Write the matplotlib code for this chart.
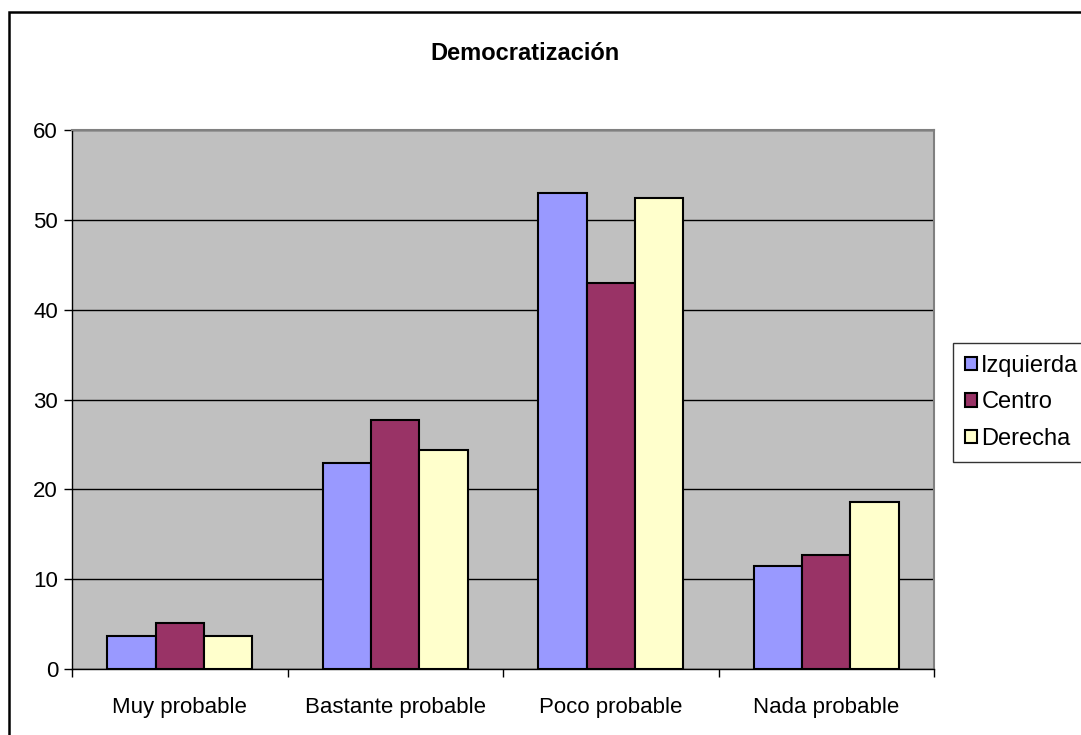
import matplotlib.pyplot as plt
import numpy as np
from matplotlib.patches import Rectangle

categories = ['Muy probable', 'Bastante probable', 'Poco probable', 'Nada probable']
series_names = ['Izquierda', 'Centro', 'Derecha']
izquierda = [3.7, 22.9, 53.0, 11.5]
centro = [5.1, 27.7, 43.0, 12.7]
derecha = [3.7, 24.4, 52.4, 18.6]
colors = ['#9999FF', '#993366', '#FFFFCC']

plt.rcParams['font.family'] = ['Liberation Sans', 'DejaVu Sans']

fig = plt.figure(figsize=(10.81, 7.35), dpi=100)
W, H = 1081, 735
ax = fig.add_axes([72 / W, 1 - 669 / H, (934 - 72) / W, (669 - 130) / H])
ax.set_facecolor('#C0C0C0')

x = np.arange(len(categories))
width = 0.224
for i, (vals, name, c) in enumerate(zip([izquierda, centro, derecha], series_names, colors)):
    ax.bar(x + (i - 1) * width, vals, width, color=c, edgecolor='black',
           linewidth=1.5, label=name, zorder=3)

ax.set_xlim(-0.5, len(categories) - 0.5)
ax.set_ylim(0, 60)
ax.set_yticks(range(0, 61, 10))
ax.yaxis.grid(True, color='black', linewidth=1, zorder=1)
ax.set_axisbelow(True)

ax.set_xticks(x)
ax.set_xticklabels(categories, fontsize=16)
ax.tick_params(axis='x', length=0, pad=20)
ax.set_xticks(np.arange(-0.5, len(categories)), minor=True)
ax.tick_params(axis='x', which='minor', length=6, width=1, direction='out')
ax.tick_params(axis='y', labelsize=16, length=6, width=1, direction='out', pad=4)

for side in ['top', 'right']:
    ax.spines[side].set_color('#808080')
    ax.spines[side].set_linewidth(1.5)
for side in ['left', 'bottom']:
    ax.spines[side].set_color('black')
    ax.spines[side].set_linewidth(1)

fig.text(525 / W, 1 - 53 / H, 'Democratización', ha='center', va='center',
         fontsize=17, fontweight='bold')

leg = fig.legend(loc='upper left', bbox_to_anchor=(953 / W, 1 - 343 / H),
                 fontsize=17, frameon=True, fancybox=False, borderpad=0.5,
                 handlelength=0.5, handleheight=0.5, handletextpad=0.2,
                 labelspacing=0.62, borderaxespad=0)
leg.get_frame().set_edgecolor('black')
leg.get_frame().set_linewidth(1)

fig.patches.append(Rectangle((9 / W, -0.1), 1.2, 1 - 12 / H + 0.1,
                             transform=fig.transFigure, fill=False,
                             edgecolor='black', linewidth=1.8))

fig.savefig('out.png', dpi=100)
